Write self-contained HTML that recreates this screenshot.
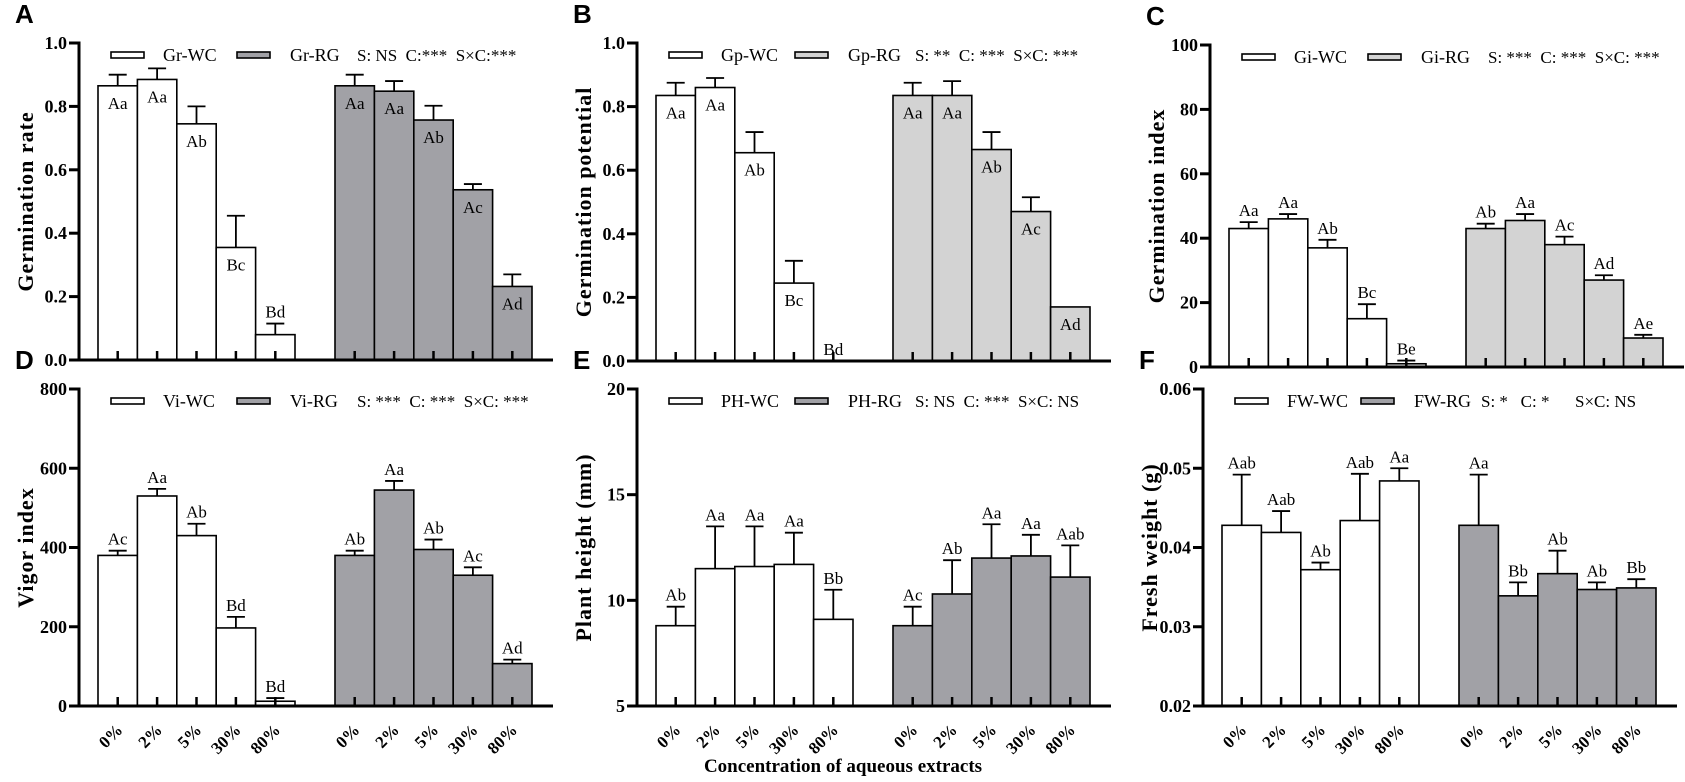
<!DOCTYPE html>
<html><head><meta charset="utf-8">
<style>
html,body{margin:0;padding:0;background:#fff;}
svg{display:block;font-family:"Liberation Serif",serif;}
.lt{font-family:"Liberation Sans",sans-serif;font-weight:bold;font-size:26px;}
.pre{white-space:pre;}
</style></head>
<body>
<svg id="fig" width="1685" height="782" viewBox="0 0 1685 782" xmlns="http://www.w3.org/2000/svg">
<text x="843" y="772" text-anchor="middle" font-weight="bold" font-size="19">Concentration of aqueous extracts</text>
</svg>
<script>
const categories = ["0%","2%","5%","30%","80%"];
// Panel A
const grWC = [0.865,0.885,0.745,0.355,0.08];
const grWCerr = [0.035,0.035,0.055,0.10,0.035];
const grRG = [0.865,0.848,0.757,0.537,0.232];
const grRGerr = [0.035,0.032,0.045,0.018,0.038];
const grLabWC = ["Aa","Aa","Ab","Bc","Bd"];
const grLabRG = ["Aa","Aa","Ab","Ac","Ad"];
const grTicks = ["0.0","0.2","0.4","0.6","0.8","1.0"];
// Panel B
const gpWC = [0.835,0.86,0.655,0.245,0];
const gpWCerr = [0.04,0.03,0.065,0.07,0];
const gpRG = [0.835,0.835,0.665,0.47,0.17];
const gpRGerr = [0.04,0.045,0.055,0.045,0];
const gpLabWC = ["Aa","Aa","Ab","Bc","Bd"];
const gpLabRG = ["Aa","Aa","Ab","Ac","Ad"];
// Panel C
const giWC = [43,46,37,15,1];
const giWCerr = [2,1.5,2.5,4.5,1];
const giRG = [43,45.5,38,27,9];
const giRGerr = [1.5,2,2.5,1.5,1];
const giLabWC = ["Aa","Aa","Ab","Bc","Be"];
const giLabRG = ["Ab","Aa","Ac","Ad","Ae"];
const giTicks = ["0","20","40","60","80","100"];
// Panel D
const viWC = [380,530,430,197,12];
const viWCerr = [12,18,30,28,8];
const viRG = [380,545,395,330,107];
const viRGerr = [12,23,25,20,10];
const viLabWC = ["Ac","Aa","Ab","Bd","Bd"];
const viLabRG = ["Ab","Aa","Ab","Ac","Ad"];
const viTicks = ["0","200","400","600","800"];
// Panel E
const phWC = [8.8,11.5,11.6,11.7,9.1];
const phWCerr = [0.9,2.0,1.9,1.5,1.4];
const phRG = [8.8,10.3,12.0,12.1,11.1];
const phRGerr = [0.9,1.6,1.6,1.0,1.5];
const phLabWC = ["Ab","Aa","Aa","Aa","Bb"];
const phLabRG = ["Ac","Ab","Aa","Aa","Aab"];
const phTicks = ["5","10","15","20"];
// Panel F
const fwWC = [0.0428,0.0419,0.0372,0.0434,0.0484];
const fwWCerr = [0.0064,0.0027,0.0009,0.0059,0.0016];
const fwRG = [0.0428,0.0339,0.0367,0.0347,0.0349];
const fwRGerr = [0.0064,0.0017,0.0029,0.0009,0.0011];
const fwLabWC = ["Aab","Aab","Ab","Aab","Aa"];
const fwLabRG = ["Aa","Bb","Ab","Ab","Bb"];
const fwTicks = ["0.02","0.03","0.04","0.05","0.06"];

const svg = document.getElementById('fig');
const NS = "http://www.w3.org/2000/svg";
function mk(tag, attrs, parent){
  const e = document.createElementNS(NS, tag);
  for (const k in attrs) e.setAttribute(k, attrs[k]);
  (parent||svg).appendChild(e);
  return e;
}

function panel(p){
  const g = mk('g', {});
  
  
  const y = v => p.bottom - (v - p.min) / (p.max - p.min) * (p.bottom - p.top);
  const W = 39.4;
  const x0 = p.ax + 19, x1 = p.ax + 256;
  const lt = mk('text', {x: p.ax - 64, y: p.top - 20, class: 'lt'}, g);
  lt.textContent = p.id;
  
  
  const yt = mk('text', {x: 0, y: 0, 'text-anchor': 'middle', 'font-weight': 'bold', 'font-size': 22, 'letter-spacing': 1,
    transform: `translate(${p.ax - 46},${(p.top + p.bottom) / 2}) rotate(-90)`}, g);
  yt.textContent = p.ytitle;
  
  
  p.ticks.forEach((t) => {
    const v = parseFloat(t);
    const ty = y(v);
    mk('line', {x1: p.ax - 10, x2: p.ax, y1: ty, y2: ty, stroke: '#000', 'stroke-width': 3}, g);
    const tx = mk('text', {x: p.ax - 12, y: ty + 6, 'text-anchor': 'end', 'font-weight': 'bold', 'font-size': 18}, g);
    tx.textContent = t;
    
    
  });
  [[p.wc, p.wcErr, p.labWC, '#ffffff', x0, 'wc'], [p.rg, p.rgErr, p.labRG, p.rgColor, x1, 'rg']].forEach(s => {
    s[0].forEach((v, i) => {
      const bx = s[4] + i * W;
      const cx = bx + W / 2;
      const top = y(v);
      const r = mk('rect', {x: bx, y: top, width: W, height: p.bottom - top, fill: s[3], stroke: '#000', 'stroke-width': 1.6}, g);
      
      
      const e = s[1][i];
      const et = y(v + e);
      if (e > 0) {
        mk('line', {x1: cx, x2: cx, y1: top, y2: et, stroke: '#000', 'stroke-width': 1.8}, g);
        mk('line', {x1: cx - 9, x2: cx + 9, y1: et, y2: et, stroke: '#000', 'stroke-width': 1.8}, g);
      }
      mk('line', {x1: cx, x2: cx, y1: p.bottom, y2: p.bottom - 9, stroke: '#000', 'stroke-width': 2.5}, g);
      let mode = p.labelMode;
      if (p.aboveIdx && p.aboveIdx.includes(s[5] + i)) mode = 'above';
      const ly = mode === 'in' ? top + 23 : et - 6;
      const lb = mk('text', {x: cx, y: ly, 'text-anchor': 'middle', 'font-size': 17}, g);
      lb.textContent = s[2][i];
      
      
      if (p.xlabels) {
        const xl = mk('text', {x: 0, y: 0, 'text-anchor': 'end', 'font-weight': 'bold', 'font-size': 17,
          transform: `translate(${cx + 6},${p.bottom + 25}) rotate(-45)`}, g);
        xl.textContent = categories[i];
        
        
      }
    });
  });
  mk('line', {x1: p.ax, x2: p.ax, y1: p.top - 1.5, y2: p.bottom + 1.5, stroke: '#000', 'stroke-width': 3}, g);
  mk('line', {x1: p.ax - 1.5, x2: p.ax + 474, y1: p.bottom, y2: p.bottom, stroke: '#000', 'stroke-width': 3}, g);
  const ly = p.top + 12;
  const lg = mk('g', {}, g);
  
  
  mk('rect', {x: p.ax + 32, y: ly - 3, width: 33, height: 6, fill: '#fff', stroke: '#000', 'stroke-width': 1.6}, lg);
  mk('rect', {x: p.ax + 158, y: ly - 3, width: 33, height: 6, fill: p.rgColor, stroke: '#000', 'stroke-width': 1.6}, lg);
  const t1 = mk('text', {x: p.ax + 84, y: ly + 6, 'font-size': 18}, lg);
  t1.textContent = p.leg[0];
  
  
  const t2 = mk('text', {x: p.ax + 211, y: ly + 6, 'font-size': 18}, lg);
  t2.textContent = p.leg[1];
  
  
  const t3 = mk('text', {x: p.ax + 278, y: ly + 6, 'font-size': 17, class: 'pre'}, lg);
  t3.textContent = p.leg[2];
  
  
}

const DARK = '#a1a1a6', LIGHT = '#d3d3d3';
panel({id:'A', ax:79, top:43, bottom:360, min:0, max:1, ticks:grTicks, ytitle:'Germination rate',
  wc:grWC, wcErr:grWCerr, rg:grRG, rgErr:grRGerr, labWC:grLabWC, labRG:grLabRG, rgColor:DARK,
  labelMode:'in', aboveIdx:['wc4'], leg:['Gr-WC','Gr-RG','S: NS  C:***  S×C:***']});
panel({id:'B', ax:637, top:43, bottom:361, min:0, max:1, ticks:grTicks, ytitle:'Germination potential',
  wc:gpWC, wcErr:gpWCerr, rg:gpRG, rgErr:gpRGerr, labWC:gpLabWC, labRG:gpLabRG, rgColor:LIGHT,
  labelMode:'in', aboveIdx:['wc4'], leg:['Gp-WC','Gp-RG','S: **  C: ***  S×C: ***']});
panel({id:'C', ax:1210, top:45, bottom:367, min:0, max:100, ticks:giTicks, ytitle:'Germination index',
  wc:giWC, wcErr:giWCerr, rg:giRG, rgErr:giRGerr, labWC:giLabWC, labRG:giLabRG, rgColor:LIGHT,
  labelMode:'above', leg:['Gi-WC','Gi-RG','S: ***  C: ***  S×C: ***']});
panel({id:'D', ax:79, top:389, bottom:706, min:0, max:800, ticks:viTicks, ytitle:'Vigor index', xlabels:true,
  wc:viWC, wcErr:viWCerr, rg:viRG, rgErr:viRGerr, labWC:viLabWC, labRG:viLabRG, rgColor:DARK,
  labelMode:'above', leg:['Vi-WC','Vi-RG','S: ***  C: ***  S×C: ***']});
panel({id:'E', ax:637, top:389, bottom:706, min:5, max:20, ticks:phTicks, ytitle:'Plant height (mm)', xlabels:true,
  wc:phWC, wcErr:phWCerr, rg:phRG, rgErr:phRGerr, labWC:phLabWC, labRG:phLabRG, rgColor:DARK,
  labelMode:'above', leg:['PH-WC','PH-RG','S: NS  C: ***  S×C: NS']});
panel({id:'F', ax:1203, top:389, bottom:706, min:0.02, max:0.06, ticks:fwTicks, ytitle:'Fresh weight (g)', xlabels:true,
  wc:fwWC, wcErr:fwWCerr, rg:fwRG, rgErr:fwRGerr, labWC:fwLabWC, labRG:fwLabRG, rgColor:DARK,
  labelMode:'above', leg:['FW-WC','FW-RG','S: *   C: *      S×C: NS']});
</script>
</body></html>
